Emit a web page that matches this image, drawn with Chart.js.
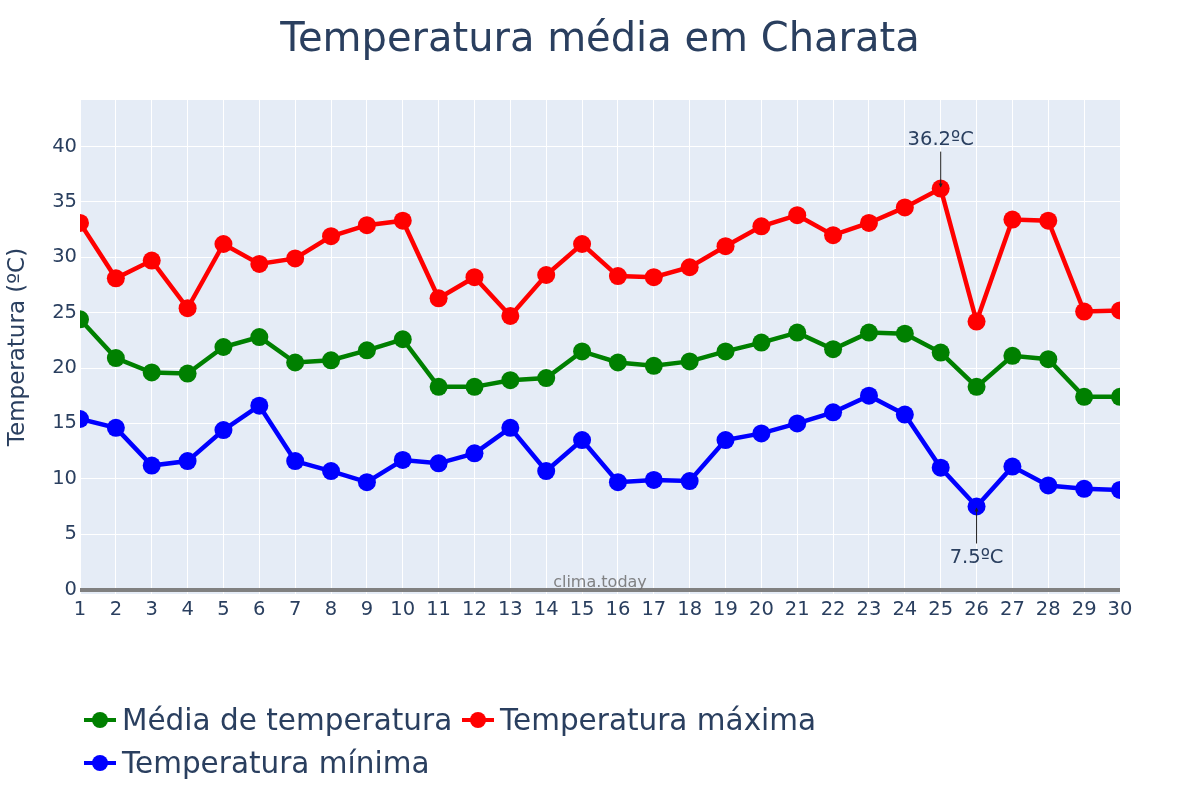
<!DOCTYPE html>
<html><head><meta charset="utf-8">
<script src="https://cdn.jsdelivr.net/npm/chart.js@4"></script>
<style>
body{margin:0;background:#fff;}
#wrap{position:relative;width:1200px;height:800px;overflow:hidden;}
#c{position:absolute;left:0;top:0;}
#title{position:absolute;top:13px;left:0;width:1200px;text-align:center;font-family:"DejaVu Sans";font-size:40px;line-height:48px;color:#2a3f5f;}
.leg{position:absolute;height:36px;font-family:"DejaVu Sans";font-size:29.5px;line-height:36px;color:#2a3f5f;display:flex;align-items:center;white-space:nowrap}
.sym{position:relative;width:32px;height:20px;margin-right:6px;flex:none}
.sym .l{position:absolute;left:0;top:8px;width:32px;height:4px}
.sym .c{position:absolute;left:8px;top:2px;width:16px;height:16px;border-radius:50%}
</style>
</head><body>
<div id="wrap">
<canvas id="c" width="1200" height="800"></canvas>
<div id="title">Temperatura média em Charata</div>
<div class="leg" style="left:84px;top:702px"><span class="sym"><span class="l" style="background:green"></span><span class="c" style="background:green"></span></span>Média de temperatura</div>
<div class="leg" style="left:462px;top:702px"><span class="sym"><span class="l" style="background:red"></span><span class="c" style="background:red"></span></span>Temperatura máxima</div>
<div class="leg" style="left:84px;top:745px"><span class="sym"><span class="l" style="background:blue"></span><span class="c" style="background:blue"></span></span>Temperatura mínima</div>
</div>
<script>
const days = ["1","2","3","4","5","6","7","8","9","10","11","12","13","14","15","16","17","18","19","20","21","22","23","24","25","26","27","28","29","30"];
const tempMedia = [24.4,20.9,19.6,19.5,21.9,22.8,20.5,20.7,21.6,22.6,18.3,18.3,18.9,19.1,21.5,20.5,20.2,20.6,21.5,22.3,23.2,21.7,23.2,23.1,21.4,18.3,21.1,20.8,17.4,17.4];
const tempMax = [33.1,28.1,29.7,25.4,31.2,29.4,29.9,31.9,32.9,33.3,26.3,28.2,24.7,28.4,31.2,28.3,28.2,29.1,31.0,32.8,33.8,32.0,33.1,34.5,36.2,24.2,33.4,33.3,25.1,25.2];
const tempMin = [15.4,14.6,11.2,11.6,14.4,16.6,11.6,10.7,9.7,11.7,11.4,12.3,14.6,10.7,13.5,9.7,9.9,9.8,13.5,14.1,15.0,16.0,17.5,15.8,11.0,7.5,11.1,9.4,9.1,9.0];
const seriesNames = ["Média de temperatura","Temperatura máxima","Temperatura mínima"];
const seriesColors = ["green","red","blue"];
const yTitle = "Temperatura (ºC)";
const watermark = "clima.today";

const FONT = "DejaVu Sans";
const TXT = "#2a3f5f";

const bgPlugin = {
  id:'bg',
  beforeDraw(chart){
    const {ctx, chartArea:a} = chart;
    ctx.save(); ctx.fillStyle = '#e5ecf6';
    ctx.fillRect(a.left, a.top, a.right-a.left, a.bottom-a.top);
    ctx.restore();
  },
  beforeDatasetsDraw(chart){
    const {ctx, chartArea:a} = chart;
    ctx.save();
    ctx.font = '16px "'+FONT+'"'; ctx.fillStyle='rgba(110,110,110,0.85)';
    ctx.textAlign='center'; ctx.textBaseline='middle';
    ctx.fillText(watermark, (a.left+a.right)/2, a.bottom-11);
    ctx.restore();
  },
  afterDatasetsDraw(chart){
    const {ctx} = chart;
    function note(dsIdx, fn, up){
      const ds = chart.data.datasets[dsIdx].data;
      const v = fn.apply(null, ds);
      const i = ds.indexOf(v);
      const p = chart.getDatasetMeta(dsIdx).data[i];
      ctx.save();
      ctx.strokeStyle='#222'; ctx.fillStyle='#222'; ctx.lineWidth=1;
      const dir = up ? -1 : 1;
      ctx.beginPath(); ctx.moveTo(p.x, p.y+dir*37); ctx.lineTo(p.x, p.y+dir*2); ctx.stroke();
      ctx.beginPath(); ctx.moveTo(p.x, p.y+dir*1); ctx.lineTo(p.x-2, p.y+dir*5); ctx.lineTo(p.x+2, p.y+dir*5); ctx.closePath(); ctx.fill();
      ctx.font='19.5px "'+FONT+'"'; ctx.fillStyle=TXT; ctx.textAlign='center'; ctx.textBaseline='middle';
      ctx.fillText(v.toFixed(1)+'ºC', p.x, p.y+dir*(up?49:51));
      ctx.restore();
    }
    note(1, Math.max, true);
    note(2, Math.min, false);
  }
};

const mk = (data, i) => ({
  label: seriesNames[i], data,
  borderColor: seriesColors[i], backgroundColor: seriesColors[i],
  pointBackgroundColor: seriesColors[i], pointBorderWidth:0,
  pointRadius: 9, pointHoverRadius: 9, borderWidth: 4.5, tension: 0, clip: 0
});

new Chart(document.getElementById('c'), {
  type:'line',
  data:{ labels: days, datasets:[mk(tempMedia,0), mk(tempMax,1), mk(tempMin,2)] },
  options:{
    responsive:false, animation:false, devicePixelRatio:1,
    layout:{padding:{left:0, right:80, top:100, bottom:166}},
    plugins:{legend:{display:false}, title:{display:false}, tooltip:{enabled:false}},
    scales:{
      x:{
        grid:{color:'#ffffff', lineWidth:1, drawTicks:false},
        border:{display:false},
        ticks:{font:{family:FONT,size:19.5}, color:TXT, padding:4, maxRotation:0, autoSkip:false},
        afterFit(s){ s.height = 40; }
      },
      y:{
        min:-0.4, max:44.2,
        grid:{drawTicks:false,
          color:(c)=> c.tick && c.tick.value===0 ? '#808080' : '#ffffff',
          lineWidth:(c)=> c.tick && c.tick.value===0 ? 4 : 1},
        border:{display:false},
        ticks:{stepSize:5, includeBounds:false, font:{family:FONT,size:19.5}, color:TXT, padding:3},
        title:{display:true, text:yTitle, font:{family:FONT,size:23}, color:TXT, padding:{top:4,bottom:4}},
        afterFit(s){ s.width = 80; }
      }
    }
  },
  plugins:[bgPlugin]
});
</script>
</body></html>
